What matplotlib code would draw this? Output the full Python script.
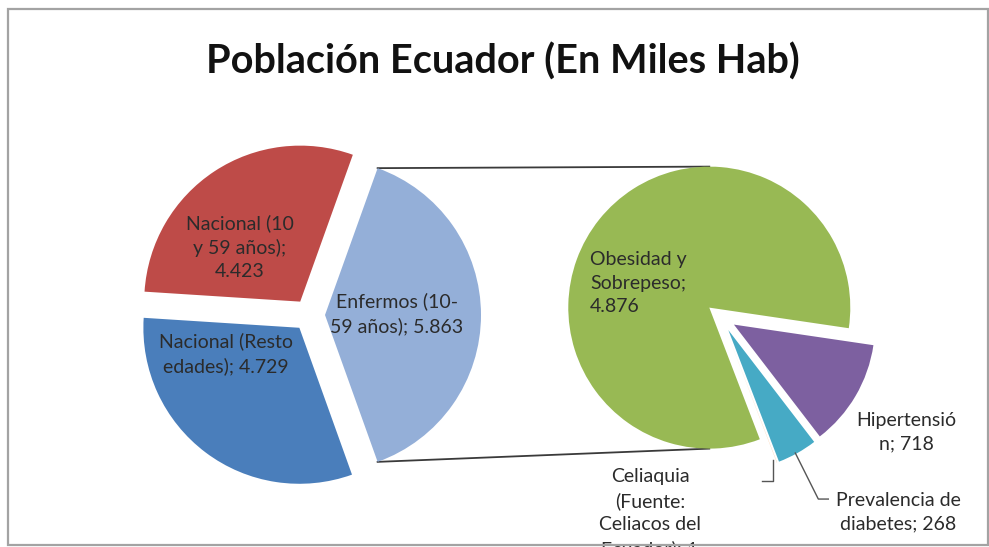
import numpy as np
import matplotlib.pyplot as plt
from matplotlib.patches import Rectangle

# población en miles de habitantes
main_names = ["Enfermos (10-\n59 años)", "Nacional (10\ny 59 años)", "Nacional (Resto\nedades)"]
main_values = [5863, 4423, 4729]
main_seps = [" ", "\n", " "]
main_colors = ["#94AFD8", "#BE4B48", "#4A7EBB"]

sub_names = ["Obesidad y\nSobrepeso", "Hipertensió\nn", "Prevalencia de\ndiabetes",
             "Celiaquia\n(Fuente:\nCeliacos del\nEcuador)"]
sub_values = [4876, 718, 268, 1]
sub_seps = ["\n", " ", " ", " "]
sub_colors = ["#98B954", "#7D60A0", "#46AAC5", "#F79646"]

FONT = "Lato"
TXT = "#2b2b2b"
FS = 14


def miles(v):
    return f"{v:,}".replace(",", ".")


def outer_point(w, frac=0.5):
    ang = np.deg2rad(w.theta1 + (w.theta2 - w.theta1) * frac)
    return w.center[0] + w.r * np.cos(ang), w.center[1] + w.r * np.sin(ang)


W, H = 989, 547
fig = plt.figure(figsize=(W / 100, H / 100), dpi=100)
ax = fig.add_axes([0, 0, 1, 1])

# pie principal, la porción "Enfermos" centrada hacia la derecha
start = -180 * main_values[0] / sum(main_values)
main_w, _ = ax.pie(main_values, colors=main_colors, center=(309, 232), radius=156,
                   startangle=start, explode=[16] * 3, frame=True,
                   wedgeprops=dict(linewidth=0))

# pie secundario con el desglose de enfermos
sub_w, _ = ax.pie(sub_values, colors=sub_colors, center=(721, 230), radius=141,
                  startangle=-69, counterclock=False, explode=[15] * 4, frame=True,
                  wedgeprops=dict(linewidth=0))

# líneas de conexión entre los dos pies
enf = main_w[0]
green = sub_w[0]
top_a = outer_point(enf, 1.0)
bot_a = outer_point(enf, 0.0)
gx, gy = green.center
ax.plot([top_a[0], gx], [top_a[1], gy + green.r], color="#3a3a3a", lw=1.3, zorder=0)
ax.plot([bot_a[0], gx], [bot_a[1], gy - green.r], color="#3a3a3a", lw=1.3, zorder=0)

# etiquetas de datos
main_pos = [(397, 233), (240, 300), (226, 193)]
for name, v, sep, (x, y) in zip(main_names, main_values, main_seps, main_pos):
    ax.text(x, y, f"{name};{sep}{miles(v)}", ha="center", va="center", fontsize=FS,
            family=FONT, color=TXT, linespacing=1.45)

sub_pos = [(590, 264, "left"), (906, 115, "center"), (898, 35, "center"), (650, 34, "center")]
frame = Rectangle((8, 2), 980, 536, fill=False, edgecolor="#a3a3a3", lw=1.6, zorder=5)
ax.add_patch(frame)
for name, v, sep, (x, y, ha) in zip(sub_names, sub_values, sub_seps, sub_pos):
    t = ax.text(x, y, f"{name};{sep}{miles(v)}", ha=ha, va="center", fontsize=FS,
                family=FONT, color=TXT, linespacing=1.45, multialignment=ha)
    t.set_clip_path(frame)

# líneas guía de las porciones pequeñas
cx, cy = outer_point(sub_w[3])
ax.plot([cx - 4, cx - 4, cx - 15], [cy + 3, cy - 18, cy - 18], color="#555555", lw=1)
dx, dy = outer_point(sub_w[2])
ax.plot([dx - 2, dx + 21, dx + 31], [dy, dy - 46, dy - 46], color="#555555", lw=1)

ax.text(503, 485, "Población Ecuador (En Miles Hab)", ha="center", va="center",
        fontsize=28.5, fontweight="bold", family=FONT, color="#111111")

ax.set_xlim(0, W)
ax.set_ylim(0, H)
ax.set_aspect("equal")
ax.axis("off")

fig.savefig("out.png", dpi=100)
